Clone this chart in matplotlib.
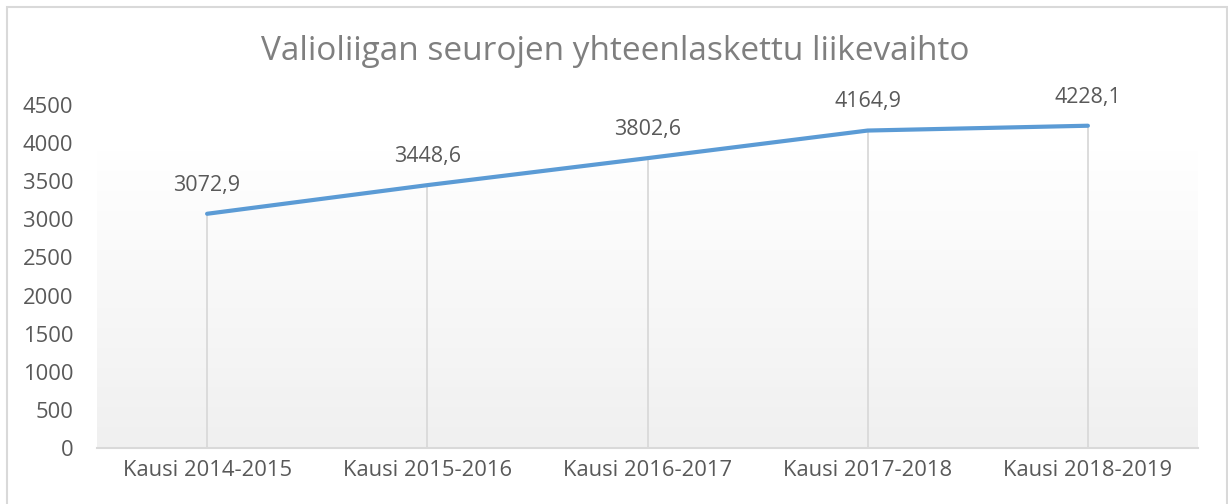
import numpy as np
import matplotlib
matplotlib.use("Agg")
import matplotlib.pyplot as plt
from matplotlib.colors import LinearSegmentedColormap
from matplotlib.patches import Rectangle

plt.rcParams['font.family'] = ['Open Sans', 'DejaVu Sans']

# data
seasons = ["Kausi 2014-2015", "Kausi 2015-2016", "Kausi 2016-2017",
           "Kausi 2017-2018", "Kausi 2018-2019"]
revenue = [3072.9, 3448.6, 3802.6, 4164.9, 4228.1]
yticks = [0, 500, 1000, 1500, 2000, 2500, 3000, 3500, 4000, 4500]

W, H = 1228, 504
fig = plt.figure(figsize=(W/100, H/100), dpi=100)
ax = fig.add_axes([97/W, (H-448)/H, (1198-97)/W, (448-105)/H])

x = np.arange(len(seasons))

# soft background gradient (white at top, light grey at bottom)
cmap = LinearSegmentedColormap.from_list("bg", ["#ffffff", "#f0f0f0"])
grad = np.linspace(1, 0, 100).reshape(-1, 1)
ax.imshow(grad, extent=(-0.5, len(seasons)-0.5, 0, 3900), origin='lower',
          aspect='auto', cmap=cmap, vmin=0, vmax=1, zorder=0)

# drop lines
ax.vlines(x, 0, revenue, color='#d9d9d9', lw=1.3, zorder=1)
ax.plot(x, revenue, color='#5b9bd5', lw=3, solid_capstyle='round', zorder=3)

for xi, v in zip(x, revenue):
    ax.annotate(f"{v:.1f}".replace('.', ','), (xi, v), xytext=(0, 13),
                textcoords='offset points', ha='center', va='bottom',
                fontsize=15.5, color='#595959')

ax.set_xlim(-0.5, len(seasons)-0.5)
ax.set_ylim(0, 4500)
ax.set_xticks(x)
ax.set_xticklabels(seasons)
ax.set_yticks(yticks)
ax.tick_params(length=0, labelsize=15.8, labelcolor='#595959')
ax.tick_params(axis='y', pad=17)
ax.tick_params(axis='x', pad=9)
for s in ['top', 'right', 'left']:
    ax.spines[s].set_visible(False)
ax.spines['bottom'].set_color('#d9d9d9')
ax.spines['bottom'].set_linewidth(1.5)
ax.patch.set_alpha(0)

fig.text(615/W, 1-52/H, "Valioliigan seurojen yhteenlaskettu liikevaihto",
         ha='center', va='center', fontsize=24, color='#7f7f7f')

# chart border
fig.patches.append(Rectangle((7/W, -0.05), (1227-7)/W, 1.05-7/H,
                             transform=fig.transFigure, fill=False,
                             edgecolor='#d9d9d9', lw=1.5))

fig.savefig("out.png", dpi=100)
